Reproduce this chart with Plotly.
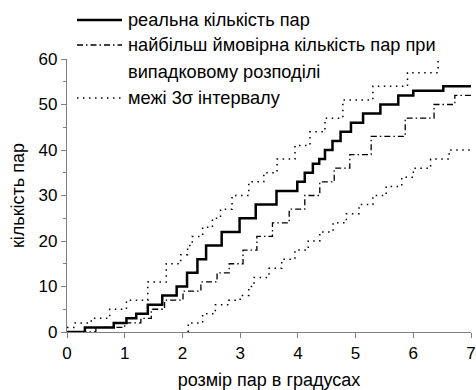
import plotly.graph_objects as go

# ---- data (step functions: value changes to y at given x) ----
real_x = [0, 0.31, 0.81, 1.03, 1.2, 1.4, 1.65, 1.9, 2.08, 2.26, 2.41, 2.68, 2.99, 3.27, 3.63, 3.99,
          4.12, 4.26, 4.37, 4.47, 4.6, 4.74, 4.92, 5.13, 5.43, 5.74, 6.0, 6.52, 7.0]
real_y = [0, 1, 2, 3, 4, 6, 8, 10, 13, 16, 19, 22, 25, 28, 31, 33,
          35, 37, 38, 40, 42, 44, 46, 48, 50, 52, 53, 54, 54]

likely_x = [0, 0.5, 1.0, 1.28, 1.46, 1.69, 2.01, 2.32, 2.6, 2.81, 3.05, 3.29, 3.56, 3.85, 4.12,
            4.38, 4.63, 4.9, 5.27, 5.86, 6.36, 6.72, 7.0]
likely_y = [0, 1, 2, 3, 5, 7, 9, 11, 13, 15, 18, 21, 24, 27, 30,
            33, 36, 39, 43, 47, 50, 52, 52]

upper_x = [0, 0.14, 0.42, 0.74, 1.03, 1.4, 1.72, 1.97, 2.09, 2.17, 2.35, 2.52, 2.66, 2.86, 3.15,
           3.41, 3.64, 3.95, 4.21, 4.47, 4.78, 5.3, 5.9, 6.43]
upper_y = [1, 2, 3, 5, 7, 11, 15, 17, 19, 21, 23, 25, 27, 30, 33,
           35, 38, 41, 44, 47, 51, 54, 57, 60]

lower_x = [2.1, 2.1, 2.35, 2.57, 2.8, 3.0, 3.15, 3.24, 3.5, 3.72, 3.95, 4.18, 4.38, 4.61, 4.84, 5.06,
           5.3, 5.53, 5.8, 6.0, 6.3, 6.62, 7.0]
lower_y = [0, 2, 4, 6, 7, 8, 10, 12, 14, 16, 18, 20, 22, 24, 26, 28,
           30, 32, 34, 36, 38, 40, 40]

x_ticks = [0, 1, 2, 3, 4, 5, 6, 7]
y_ticks = [0, 10, 20, 30, 40, 50, 60]

legend_labels = ["реальна кількість пар",
                 "найбільш ймовірна кількість пар при",
                 "випадковому розподілі",
                 "межі 3σ інтервалу"]

FONT = "Arial, Liberation Sans, sans-serif"
DOT = "1.5px,4.5px"
DASHDOT = "6px,3px,1.5px,3px"

fig = go.Figure()
fig.add_trace(go.Scatter(x=upper_x, y=upper_y, mode="lines", line_shape="hv",
                         line=dict(color="black", width=1.5, dash=DOT), showlegend=False))
fig.add_trace(go.Scatter(x=lower_x, y=lower_y, mode="lines", line_shape="hv",
                         line=dict(color="black", width=1.5, dash=DOT), showlegend=False))
fig.add_trace(go.Scatter(x=likely_x, y=likely_y, mode="lines", line_shape="hv",
                         line=dict(color="black", width=1.3, dash=DASHDOT), showlegend=False))
fig.add_trace(go.Scatter(x=real_x, y=real_y, mode="lines", line_shape="hv",
                         line=dict(color="black", width=2.5), showlegend=False))

# plot area: x 67..471, y 59..332 (pixels)
W, H = 476, 390
L, R, T, B = 67, 5, 59, 58
pw, ph = W - L - R, H - T - B

def px(xp):
    return (xp - L) / pw

def py(yp):
    return (H - B - yp) / ph

# legend (samples + text)
samples = [(20, None), (45, DASHDOT), (98, DOT)]
widths = [2.5, 1.3, 1.5]
for (yy, dash), w in zip(samples, widths):
    line = dict(color="black", width=w)
    if dash:
        line["dash"] = dash
    fig.add_shape(type="line", xref="paper", yref="paper",
                  x0=px(77), x1=px(122), y0=py(yy), y1=py(yy), line=line)
for label, yy in zip(legend_labels, [20, 45, 72, 98]):
    fig.add_annotation(text=label, xref="paper", yref="paper", x=px(126), y=py(yy),
                       xanchor="left", yanchor="middle", showarrow=False,
                       font=dict(family=FONT, size=18.2, color="black"))

axis_common = dict(showline=True, linecolor="#7f7f7f", linewidth=1.2, ticks="outside",
                   tickcolor="#7f7f7f", ticklen=5, tickwidth=1, showgrid=False, zeroline=False,
                   ticklabeloverflow="allow",
                   tickfont=dict(family=FONT, size=17, color="black"),
                   title_font=dict(family=FONT, size=18, color="black"))

fig.update_xaxes(range=[0, 7], tickvals=x_ticks, title_text="розмір пар в градусах",
                 title_standoff=11, **axis_common)
fig.update_yaxes(range=[0, 60], tickvals=y_ticks, title_text="кількість пар",
                 title_standoff=9, minor=dict(dtick=5, ticks="outside", ticklen=3,
                                              tickcolor="#7f7f7f"), **axis_common)

fig.update_layout(width=W, height=H, margin=dict(l=L, r=R, t=T, b=B, autoexpand=False),
                  plot_bgcolor="white", paper_bgcolor="white", showlegend=False)

fig.write_html("out.html", config={"displayModeBar": False},
               post_script="document.body.style.margin='0';")
